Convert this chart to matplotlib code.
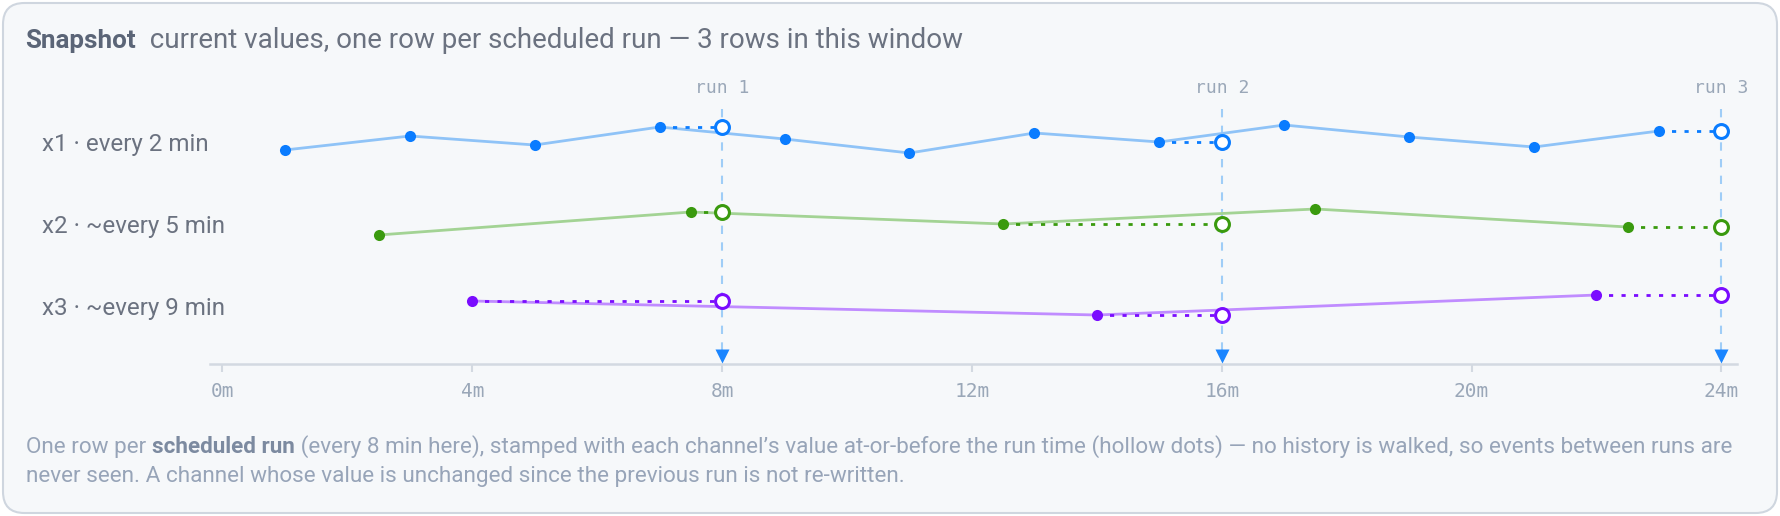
import matplotlib
matplotlib.use("Agg")
import matplotlib.pyplot as plt
from matplotlib.patches import FancyBboxPatch

# channel events: time (min) and value; rows drawn around value 50
x1_t = [1, 3, 5, 7, 9, 11, 13, 15, 17, 19, 21, 23]
x1_v = [43, 57, 48, 66, 54, 40, 60, 51, 68, 56, 46, 62]
x2_t = [2.5, 7.5, 12.5, 17.5, 22.5]
x2_v = [40, 63, 51, 66, 48]
x3_t = [4, 14, 22]
x3_v = [55, 41, 61]

row_labels = ["x1 · every 2 min", "x2 · ~every 5 min", "x3 · ~every 9 min"]
run_times = [8, 16, 24]
run_labels = ["run 1", "run 2", "run 3"]
xticks = [0, 4, 8, 12, 16, 20, 24]

W, H = 1780, 516
fig = plt.figure(figsize=(W / 100, H / 100), dpi=100)
fig.patch.set_facecolor("white")
plt.rcParams["font.family"] = ["Roboto", "DejaVu Sans"]

card = FancyBboxPatch((3 / W, 3 / H), 1774 / W, 510 / H,
                      boxstyle="round,pad=0,rounding_size=0.012",
                      transform=fig.transFigure, facecolor="#f6f8fa",
                      edgecolor="#cfd6df", linewidth=1.5, mutation_aspect=W / H,
                      zorder=-10)
fig.patches.append(card)

# axes in minutes (x) and pixel-like rows (y, inverted)
ax = fig.add_axes([210 / W, (H - 364) / H, (1737 - 210) / W, (364 - 60) / H])
ax.set_zorder(5)
ax.set_xlim(-0.2, 24.25)
ax.set_ylim(364, 60)
ax.patch.set_alpha(0)
for s in ["top", "right", "left"]:
    ax.spines[s].set_visible(False)
ax.spines["bottom"].set_color("#d3d9e1")
ax.spines["bottom"].set_linewidth(1.8)
ax.set_yticks([])
ax.set_xticks(xticks)
ax.set_xticklabels([f"{t}m" for t in xticks], family="DejaVu Sans Mono",
                   fontsize=14, color="#9aa7b8")
ax.tick_params(axis="x", length=6, width=1.5, color="#d3d9e1", pad=7)

row_y = [143, 225, 306]
series = [(x1_t, x1_v, "#8fc3f7", "#0a7cff"),
          (x2_t, x2_v, "#a3d394", "#3a9a0e"),
          (x3_t, x3_v, "#c08cff", "#7a0cff")]

# run guides
for rt, rl in zip(run_times, run_labels):
    ax.plot([rt, rt], [109, 350], color="#9fcdf7", lw=1.5, ls=(0, (4, 4)), zorder=1)
    ax.plot(rt, 356, marker="v", ms=10, color="#1a85ff", mec="none", zorder=3)
    ax.text(rt, 93, rl, ha="center", va="baseline", family="DejaVu Sans Mono",
            fontsize=13, color="#9aa7b8")

for (t, v, lc, mc), ry in zip(series, row_y):
    y = [ry - (val - 50) for val in v]
    ax.plot(t, y, color=lc, lw=2, zorder=2)
    ax.plot(t, y, "o", color=mc, ms=8, mec="none", zorder=4)
    for rt in run_times:
        prev = [i for i in range(len(t)) if t[i] <= rt]
        i = prev[-1]
        ax.plot([t[i], rt], [y[i], y[i]], color=mc, lw=2, ls=(0, (1.5, 3)), zorder=3)
        ax.plot(rt, y[i], "o", ms=10, mfc="white", mec=mc, mew=2.2, zorder=5)

for lab, base in zip(row_labels, [151, 233, 315]):
    fig.text(42 / W, 1 - base / H, lab, ha="left", va="baseline", fontsize=17.4,
             color="#6b7280")

fig.canvas.draw()
renderer = fig.canvas.get_renderer()


def put_runs(x, y, parts):
    for s, weight, color, size in parts:
        t = fig.text(x / W, 1 - y / H, s, ha="left", va="baseline", fontsize=size,
                     fontweight=weight, color=color)
        x += t.get_window_extent(renderer).width


put_runs(25, 48, [("Snapshot", "bold", "#5b6577", 18.7),
                  ("  current values, one row per scheduled run — 3 rows in this window",
                   "normal", "#6b7280", 20)])

cap = "#97a4b8"
put_runs(26, 453, [("One row per ", "normal", cap, 16.2),
                   ("scheduled run", "bold", "#7c8aa0", 16.2),
                   (" (every 8 min here), stamped with each channel’s value at-or-before the run time "
                    "(hollow dots) — no history is walked, so events between runs are", "normal", cap, 16.2)])
put_runs(26, 482, [("never seen. A channel whose value is unchanged since the previous run is not re-written.",
                    "normal", cap, 16.2)])

fig.savefig("out.png", dpi=100, facecolor="white")
